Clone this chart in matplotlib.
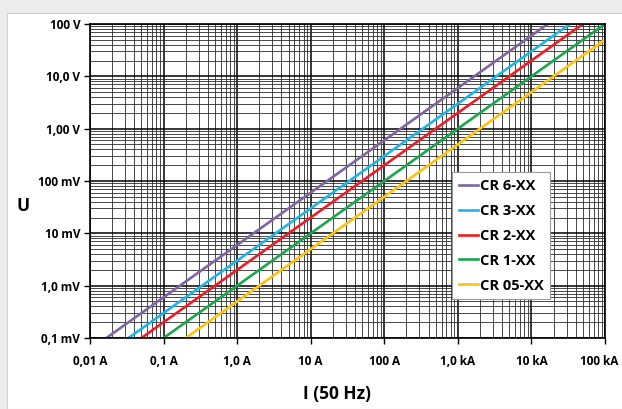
import matplotlib
matplotlib.use('Agg')
import matplotlib.pyplot as plt
import matplotlib.transforms as mtransforms
from matplotlib.patches import Rectangle
from matplotlib.ticker import LogLocator, NullFormatter

# Series: start / end points (current in A, voltage in V)
names = ['CR 6-XX', 'CR 3-XX', 'CR 2-XX', 'CR 1-XX', 'CR 05-XX']
colors = ['#8064a2', '#1fb4ea', '#ee1c24', '#1aa64a', '#ffc20e']
i_start = [0.0167, 0.0333, 0.05, 0.1, 0.2]
i_end = [16700, 33300, 50000, 100000, 100000]
u_start = [1e-4, 1e-4, 1e-4, 1e-4, 1e-4]
u_end = [100, 100, 100, 100, 50]

x_ticks = [0.01, 0.1, 1, 10, 100, 1000, 10000, 100000]
x_labels = ['0,01 A', '0,1 A', '1,0 A', '10 A', '100 A', '1,0 kA', '10 kA', '100 kA']
y_ticks = [1e-4, 1e-3, 1e-2, 1e-1, 1, 10, 100]
y_labels = ['0,1 mV', '1,0 mV', '10 mV', '100 mV', '1,00 V', '10,0 V', '100 V']

plt.rcParams['font.family'] = ['Open Sans', 'DejaVu Sans']

fig = plt.figure(figsize=(6.22, 4.09), dpi=100)
fig.patch.set_facecolor('#ececec')
# white panel behind the chart
panel = Rectangle((7 / 622, 0), 1, 1 - 13 / 409, transform=fig.transFigure,
                  facecolor='white', edgecolor='#d0d0d0', lw=0.8, zorder=-10)
fig.patches.append(panel)

ax = fig.add_axes([90 / 622, 1 - 338 / 409, (605 - 90) / 622, (338 - 24) / 409])
ax.set_zorder(5)
ax.set_xscale('log')
ax.set_yscale('log')
ax.set_xlim(0.01, 1e5)
ax.set_ylim(1e-4, 100)

ax.xaxis.set_minor_locator(LogLocator(base=10, subs=range(2, 10), numticks=20))
ax.yaxis.set_minor_locator(LogLocator(base=10, subs=range(2, 10), numticks=20))
ax.xaxis.set_minor_formatter(NullFormatter())
ax.yaxis.set_minor_formatter(NullFormatter())
ax.grid(which='major', color='black', lw=1.1)
ax.grid(which='minor', color='#2a2a2a', lw=0.6)
ax.set_axisbelow(True)

for n, c, i0, i1, u0, u1 in zip(names, colors, i_start, i_end, u_start, u_end):
    ax.plot([i0, i1], [u0, u1], color=c, lw=1.9, label=n)

ax.set_xticks(x_ticks)
ax.set_xticklabels(x_labels, fontsize=8.5, fontweight='bold')
ax.set_yticks(y_ticks)
ax.set_yticklabels(y_labels, fontsize=8.5, fontweight='bold')
ax.tick_params(which='major', length=4, width=1, color='black', pad=3)
ax.tick_params(which='minor', length=0)
ax.tick_params(axis='x', pad=8)
for s in ax.spines.values():
    s.set_color('black')
    s.set_linewidth(1.2)

# keep the last x label inside the picture
last = ax.get_xticklabels()[-1]
last.set_transform(last.get_transform() + mtransforms.ScaledTranslation(-6 / 100, 0, fig.dpi_scale_trans))

ax.set_xlabel('I (50 Hz)', fontsize=12.5, fontweight='bold')
ax.xaxis.set_label_coords(0.48, -0.15)
ax.set_ylabel('U', fontsize=12.5, fontweight='bold', rotation=0, va='center')
ax.yaxis.set_label_coords(-0.13, 0.42)

leg = ax.legend(loc='upper left', bbox_to_anchor=(0.703, 0.528), borderaxespad=0,
                prop={'weight': 'bold', 'size': 10.5}, handlelength=1.3,
                handletextpad=0.15, labelspacing=0.75, borderpad=0.45,
                fancybox=False, framealpha=1, edgecolor='#999999')
leg.get_frame().set_linewidth(0.8)

fig.savefig('out.png', dpi=100, facecolor=fig.get_facecolor())
